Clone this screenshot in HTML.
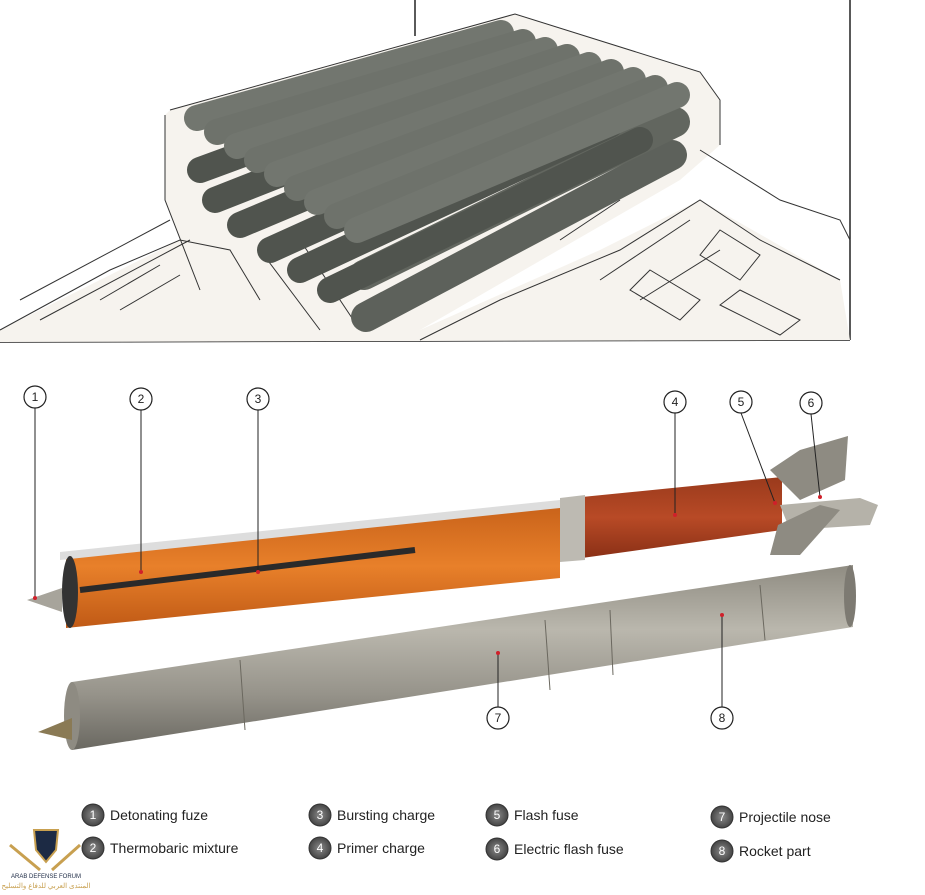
<!DOCTYPE html>
<html><head><meta charset="utf-8"><style>
html,body{margin:0;padding:0;background:#fff;}
svg{display:block;}
text{font-family:"Liberation Sans",sans-serif;}
</style></head><body>
<svg width="925" height="895" viewBox="0 0 925 895" xmlns="http://www.w3.org/2000/svg">
<defs>
<linearGradient id="orange" x1="0" y1="0" x2="0" y2="1">
<stop offset="0" stop-color="#c8621a"/><stop offset="0.5" stop-color="#e8802a"/><stop offset="1" stop-color="#c05a16"/>
</linearGradient>
<linearGradient id="red" x1="0" y1="0" x2="0" y2="1">
<stop offset="0" stop-color="#9a3a1c"/><stop offset="0.5" stop-color="#b84a26"/><stop offset="1" stop-color="#8a3016"/>
</linearGradient>
<linearGradient id="grey" x1="0" y1="0" x2="0" y2="1">
<stop offset="0" stop-color="#8f8c82"/><stop offset="0.35" stop-color="#bab7ad"/><stop offset="0.7" stop-color="#96938a"/><stop offset="1" stop-color="#6a6861"/>
</linearGradient>
<radialGradient id="lc"><stop offset="0" stop-color="#8a8a8a"/><stop offset="1" stop-color="#444"/></radialGradient>
</defs>

<line x1="415" y1="0" x2="415" y2="36" stroke="#222" stroke-width="1.5"/>
<line x1="850" y1="0" x2="850" y2="340" stroke="#222" stroke-width="1.5"/>
<line x1="0" y1="342" x2="850" y2="340" stroke="#222" stroke-width="1.5"/>

<polygon points="170,110 515,14 700,72 720,100 720,145 680,180 420,330 260,300 200,290 165,200 165,115" fill="#f6f3ee"/>
<polygon points="0,330 180,240 420,330 600,250 700,200 840,280 850,340 0,342" fill="#f6f3ee"/>
<g fill="none" stroke="#333" stroke-width="1">
<path d="M170 110 L515 14 L700 72 L720 100 L720 145"/>
<path d="M165 115 L165 200 L200 290"/>
<path d="M0 330 L110 270 L180 240 L230 250 L260 300"/>
<path d="M20 300 L170 220 M40 320 L190 240"/>
<path d="M700 150 L780 200 L840 220 L850 240"/>
<path d="M420 340 L500 300 L620 250 L700 200 L760 240 L840 280"/>
<path d="M560 240 L620 200 M600 280 L690 220 M640 300 L720 250"/>
<path d="M720 230 L760 255 L740 280 L700 255 Z"/>
<path d="M650 270 L700 300 L680 320 L630 290 Z"/>
<path d="M740 290 L800 320 L780 335 L720 305 Z"/>
<path d="M100 300 L160 265 M120 310 L180 275"/>
<path d="M260 250 L320 330 M300 240 L360 330"/>
</g>

<g stroke-linecap="round">
<line x1="366" y1="317" x2="672" y2="155" stroke="#5d615b" stroke-width="30"/>
<line x1="364" y1="275" x2="675" y2="122" stroke="#62665f" stroke-width="30"/>
<line x1="330" y1="290" x2="640" y2="140" stroke="#50544e" stroke-width="26"/>
<line x1="300" y1="270" x2="610" y2="125" stroke="#50544e" stroke-width="26"/>
<line x1="270" y1="250" x2="580" y2="110" stroke="#50544e" stroke-width="26"/>
<line x1="240" y1="225" x2="550" y2="95" stroke="#50544e" stroke-width="26"/>
<line x1="215" y1="200" x2="520" y2="80" stroke="#50544e" stroke-width="26"/>
<line x1="200" y1="170" x2="500" y2="60" stroke="#50544e" stroke-width="26"/>
<line x1="197" y1="118" x2="501" y2="33" stroke="#72766f" stroke-width="26"/>
<line x1="217" y1="132" x2="523" y2="42" stroke="#6e726b" stroke-width="26"/>
<line x1="237" y1="146" x2="545" y2="50" stroke="#72766f" stroke-width="26"/>
<line x1="257" y1="160" x2="567" y2="57" stroke="#6e726b" stroke-width="26"/>
<line x1="277" y1="174" x2="589" y2="65" stroke="#72766f" stroke-width="26"/>
<line x1="297" y1="188" x2="611" y2="72" stroke="#6e726b" stroke-width="26"/>
<line x1="317" y1="202" x2="633" y2="80" stroke="#72766f" stroke-width="26"/>
<line x1="337" y1="216" x2="655" y2="88" stroke="#6e726b" stroke-width="26"/>
<line x1="357" y1="230" x2="677" y2="95" stroke="#72766f" stroke-width="26"/>
</g>

<polygon points="66,557 560,505 560,578 66,628" fill="url(#orange)"/>
<polygon points="60,552 560,500 560,508 60,560" fill="#ddd"/>
<polygon points="582,497 782,477 782,530 582,558" fill="url(#red)"/>
<polygon points="560,498 585,495 585,560 560,562" fill="#bdbab2"/>
<line x1="80" y1="590" x2="415" y2="550" stroke="#2a2a2a" stroke-width="6"/>
<ellipse cx="70" cy="592" rx="8" ry="36" fill="#333"/>
<polygon points="27,600 62,588 62,612" fill="#a7a49b"/>
<polygon points="770,470 800,450 848,436 845,480 800,500" fill="#8e8b82"/>
<polygon points="780,505 860,498 878,505 870,525 790,530" fill="#b5b2a9"/>
<polygon points="778,525 820,505 840,510 800,555 770,555" fill="#8e8b82"/>

<polygon points="72,682 853,565 853,627 72,750" fill="url(#grey)"/>
<ellipse cx="72" cy="716" rx="8" ry="34" fill="#8e8b82"/>
<ellipse cx="850" cy="596" rx="6" ry="31" fill="#7d7a72"/>
<polygon points="38,732 72,718 72,740" fill="#8a7a55"/>
<g stroke="#6b685f" stroke-width="1">
<line x1="545" y1="620" x2="550" y2="690"/><line x1="610" y1="610" x2="613" y2="675"/>
<line x1="760" y1="585" x2="765" y2="640"/><line x1="240" y1="660" x2="245" y2="730"/>
</g>

<g fill="#fff" stroke="#222" stroke-width="1.2">
<circle cx="35" cy="397" r="11"/><circle cx="141" cy="399" r="11"/><circle cx="258" cy="399" r="11"/>
<circle cx="675" cy="402" r="11"/><circle cx="741" cy="402" r="11"/><circle cx="811" cy="403" r="11"/>
<circle cx="498" cy="718" r="11"/><circle cx="722" cy="718" r="11"/>
</g>
<g stroke="#222" stroke-width="1">
<line x1="35" y1="408" x2="35" y2="598"/><line x1="141" y1="410" x2="141" y2="572"/>
<line x1="258" y1="410" x2="258" y2="572"/><line x1="675" y1="413" x2="675" y2="515"/>
<line x1="741" y1="413" x2="775" y2="503"/><line x1="811" y1="414" x2="820" y2="497"/>
<line x1="498" y1="707" x2="498" y2="653"/><line x1="722" y1="707" x2="722" y2="615"/>
</g>
<g fill="#d0202a">
<circle cx="35" cy="598" r="2"/><circle cx="141" cy="572" r="2"/><circle cx="258" cy="572" r="2"/>
<circle cx="675" cy="515" r="2"/><circle cx="775" cy="503" r="2"/><circle cx="820" cy="497" r="2"/>
<circle cx="498" cy="653" r="2"/><circle cx="722" cy="615" r="2"/>
</g>
<g font-size="12" text-anchor="middle" fill="#222">
<text x="35" y="401">1</text><text x="141" y="403">2</text><text x="258" y="403">3</text>
<text x="675" y="406">4</text><text x="741" y="406">5</text><text x="811" y="407">6</text>
<text x="498" y="722">7</text><text x="722" y="722">8</text>
</g>

<g fill="url(#lc)" stroke="#333">
<circle cx="93" cy="815" r="11"/><circle cx="93" cy="848" r="11"/>
<circle cx="320" cy="815" r="11"/><circle cx="320" cy="848" r="11"/>
<circle cx="497" cy="815" r="11"/><circle cx="497" cy="849" r="11"/>
<circle cx="722" cy="817" r="11"/><circle cx="722" cy="851" r="11"/>
</g>
<g font-size="12" text-anchor="middle" fill="#fff">
<text x="93" y="819">1</text><text x="93" y="852">2</text>
<text x="320" y="819">3</text><text x="320" y="852">4</text>
<text x="497" y="819">5</text><text x="497" y="853">6</text>
<text x="722" y="821">7</text><text x="722" y="855">8</text>
</g>
<g font-size="14" fill="#222">
<text x="110" y="820">Detonating fuze</text><text x="110" y="853">Thermobaric mixture</text>
<text x="337" y="820">Bursting charge</text><text x="337" y="853">Primer charge</text>
<text x="514" y="820">Flash fuse</text><text x="514" y="854">Electric flash fuse</text>
<text x="739" y="822">Projectile nose</text><text x="739" y="856">Rocket part</text>
</g>

<polygon points="34,830 58,830 56,850 46,862 36,850" fill="#1c2a44" stroke="#c8a050" stroke-width="2"/>
<path d="M10 845 L40 870 M80 845 L52 870" stroke="#c8a050" stroke-width="3"/>
<text x="46" y="878" font-size="6" text-anchor="middle" fill="#1c2a44">ARAB DEFENSE FORUM</text>
<text x="46" y="888" font-size="7" text-anchor="middle" fill="#c8a050">المنتدى العربي للدفاع والتسليح</text>
</svg>
</body></html>
